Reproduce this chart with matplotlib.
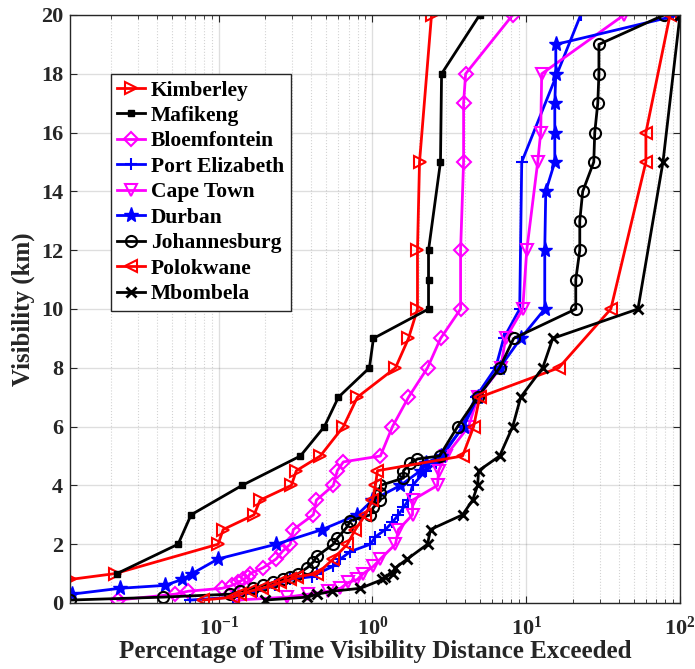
import numpy as np
import matplotlib
matplotlib.use("Agg")
import matplotlib.pyplot as plt
from matplotlib.ticker import LogLocator, FixedLocator, FixedFormatter, NullFormatter

plt.rcParams['font.family'] = 'Liberation Serif'
plt.rcParams['font.weight'] = 'bold'
plt.rcParams['mathtext.fontset'] = 'custom'
plt.rcParams['mathtext.rm'] = 'Liberation Serif:bold'
plt.rcParams['mathtext.it'] = 'Liberation Serif:bold'
plt.rcParams['mathtext.bf'] = 'Liberation Serif:bold'

# visibility (km) vs percentage of time exceeded
kim_vis = [0.8, 1, 2, 2.5, 3, 3.5, 4, 4.5, 5, 6, 7, 8, 9, 10, 12, 15, 20]
kim_pct = [0.0108, 0.0212, 0.0993, 0.107, 0.170, 0.186, 0.297, 0.320, 0.458, 0.647,
           0.798, 1.412, 1.716, 1.963, 1.963, 2.024, 2.422]

maf_vis = [1, 2, 3, 4, 5, 6, 7, 8, 9, 10, 11, 12, 15, 18, 20]
maf_pct = [0.0218, 0.0545, 0.0662, 0.142, 0.340, 0.487, 0.601, 0.956, 1.015, 2.316,
           2.316, 2.316, 2.77, 2.816, 4.98]

blo_vis = [0.1, 0.3, 0.4, 0.5, 0.6, 0.7, 0.8, 0.9, 1.0, 1.2, 1.5, 1.75, 2.0, 2.5, 3.0,
           3.5, 4.0, 4.5, 4.8, 5, 6, 7, 8, 9, 10, 12, 15, 17, 18, 20]
blo_pct = [0.0221, 0.0521, 0.0633, 0.1054, 0.1225, 0.134, 0.1445, 0.156, 0.160, 0.195,
           0.237, 0.259, 0.292, 0.306, 0.413, 0.432, 0.557, 0.591, 0.647, 1.127, 1.350,
           1.716, 2.282, 2.774, 3.743, 3.743, 3.915, 3.915, 4.036, 8.166]

pe_vis = [0.1, 0.2, 0.4, 0.6, 0.8, 0.9, 1.0, 1.25, 1.5, 1.75, 2.0, 2.25, 2.5, 2.75, 3.0,
          3.25, 3.5, 4.0, 4.5, 4.75, 5, 6, 7, 8, 9, 10, 15, 20]
pe_pct = [0.0652, 0.124, 0.178, 0.233, 0.292, 0.407, 0.438, 0.557, 0.619, 0.719, 0.970,
          1.046, 1.215, 1.350, 1.476, 1.592, 1.716, 1.823, 2.215, 2.572, 2.858, 3.857,
          4.689, 6.325, 7.130, 9.070, 9.350, 22.6]

cpt_vis = [0.1, 0.2, 0.3, 0.4, 0.5, 0.7, 0.8, 1.0, 1.25, 1.5, 2.0, 2.5, 3.0, 3.5, 4.0,
           4.5, 5, 6, 7, 8, 9, 10, 12, 15, 16, 18, 20]
cpt_pct = [0.132, 0.279, 0.383, 0.517, 0.619, 0.698, 0.798, 0.874, 1.015, 1.127, 1.412,
           1.476, 1.823, 1.823, 2.651, 2.692, 2.990, 4.220, 4.831, 6.819, 7.350, 9.494,
           10.08, 11.88, 12.42, 12.61, 43.2]

dur_vis = [0.3, 0.5, 0.6, 0.8, 1.0, 1.5, 2.0, 2.5, 3.0, 3.5, 4.0, 4.5, 4.75, 5, 6, 7, 8,
           9, 10, 12, 14, 15, 16, 17, 18, 19, 20]
dur_pct = [0.0111, 0.0228, 0.0448, 0.0578, 0.0672, 0.0993, 0.237, 0.472, 0.798, 1.0,
           1.521, 2.054, 2.215, 2.774, 3.915, 4.831, 6.720, 9.208, 13.20, 13.20, 13.40,
           15.34, 15.34, 15.34, 15.57, 15.57, 98.5]

jhb_vis = [0.1, 0.2, 0.3, 0.4, 0.5, 0.6, 0.7, 0.8, 0.9, 1.0, 1.2, 1.4, 1.6, 2.0, 2.2, 2.6,
           2.8, 3.0, 3.25, 3.5, 3.75, 4.0, 4.25, 4.5, 4.75, 4.9, 5, 6, 7, 8, 9, 10, 11, 12,
           13, 14, 15, 16, 17, 18, 19, 20]
jhb_pct = [0.0108, 0.0435, 0.119, 0.138, 0.168, 0.195, 0.226, 0.263, 0.292, 0.330, 0.377,
           0.413, 0.438, 0.557, 0.591, 0.687, 0.719, 0.970, 1.015, 1.127, 1.127, 1.127,
           1.592, 1.592, 1.768, 1.963, 2.733, 3.578, 4.831, 6.720, 8.292, 21.0, 21.0,
           22.3, 22.3, 23.3, 27.5, 27.9, 29.2, 29.7, 29.7, 78.7]

pol_vis = [0.1, 0.2, 0.3, 0.4, 0.5, 0.6, 0.7, 0.8, 0.9, 1.0, 1.5, 2.0, 2.5, 3.0, 3.5, 4.0,
           4.5, 5, 6, 7, 8, 10, 15, 16, 20]
pol_pct = [0.0793, 0.124, 0.138, 0.160, 0.192, 0.226, 0.252, 0.292, 0.325, 0.438, 0.557,
           0.687, 0.775, 0.900, 1.0, 1.046, 1.078, 3.857, 4.550, 4.979, 16.29, 35.5, 60.0,
           60.0, 86.1]

mbo_vis = [0.1, 0.2, 0.3, 0.4, 0.5, 0.8, 0.9, 1.0, 1.2, 1.5, 2.0, 2.5, 3.0, 3.5, 4.0, 4.5,
           5, 6, 7, 8, 9, 10, 15, 20]
mbo_pct = [0.201, 0.377, 0.438, 0.549, 0.835, 1.162, 1.215, 1.370, 1.412, 1.690, 2.282,
           2.387, 3.857, 4.482, 4.831, 4.905, 6.720, 8.166, 9.208, 12.80, 14.88, 53.3,
           77.5, 100]

x_ticks = [0.1, 1, 10, 100]
x_tick_labels = ['$10^{-1}$', '$10^{0}$', '$10^{1}$', '$10^{2}$']
y_ticks = [0, 2, 4, 6, 8, 10, 12, 14, 16, 18, 20]

MAG = '#ff00ff'

fig = plt.figure(figsize=(6.95, 6.69), dpi=100)
ax = fig.add_axes([70 / 695, 66 / 669, 610 / 695, 588 / 669])

lw = 2.0
ax.plot(kim_pct, kim_vis, color='r', lw=lw, marker='>', ms=9, mfc='none', mew=1.5, label='Kimberley')
ax.plot(maf_pct, maf_vis, color='k', lw=lw, marker='s', ms=5, mfc='k', label='Mafikeng')
ax.plot(blo_pct, blo_vis, color=MAG, lw=lw, marker='D', ms=7, mfc='none', mew=1.5, label='Bloemfontein')
ax.plot(pe_pct, pe_vis, color='b', lw=lw, marker='+', ms=9, mew=1.5, label='Port Elizabeth')
ax.plot(cpt_pct, cpt_vis, color=MAG, lw=lw, marker='v', ms=9, mfc='none', mew=1.5, label='Cape Town')
ax.plot(dur_pct, dur_vis, color='b', lw=lw, marker='*', ms=11, mfc='b', label='Durban')
ax.plot(jhb_pct, jhb_vis, color='k', lw=lw, marker='o', ms=8, mfc='none', mew=1.5, label='Johannesburg')
ax.plot(pol_pct, pol_vis, color='r', lw=lw, marker='<', ms=9, mfc='none', mew=1.5, label='Polokwane')
ax.plot(mbo_pct, mbo_vis, color='k', lw=lw, marker='x', ms=7, mew=2, label='Mbombela')

all_pct = kim_pct + maf_pct + blo_pct + pe_pct + cpt_pct + dur_pct + jhb_pct + pol_pct + mbo_pct
ax.set_xscale('log')
ax.set_xlim(min(all_pct), 100)
ax.set_ylim(0, 20)

ax.xaxis.set_major_locator(FixedLocator(x_ticks))
ax.xaxis.set_major_formatter(FixedFormatter(x_tick_labels))
ax.xaxis.set_minor_locator(LogLocator(base=10, subs=np.arange(2, 10), numticks=20))
ax.xaxis.set_minor_formatter(NullFormatter())
ax.set_yticks(y_ticks)

ax.grid(True, which='major', color='0.15', alpha=0.15, lw=1)
ax.grid(True, which='minor', axis='x', color='0.15', alpha=0.2, lw=0.8, ls=':')
ax.set_axisbelow(True)

ax.tick_params(which='both', direction='in', top=True, right=True, labelsize=16, colors='0.15')
ax.tick_params(axis='x', pad=10)
ax.tick_params(axis='y', pad=5)
ax.tick_params(which='major', length=5)
ax.tick_params(which='minor', length=3)
for sp in ax.spines.values():
    sp.set_color('0.15')
    sp.set_linewidth(1)

ax.set_xlabel('Percentage of Time Visibility Distance Exceeded', fontsize=18,
              fontweight='bold', color='0.15', labelpad=0)
ax.set_ylabel('Visibility (km)', fontsize=18, fontweight='bold', color='0.15', labelpad=4)

leg = ax.legend(loc='upper left', bbox_to_anchor=(111 / 695, 1 - 74 / 669),
                bbox_transform=fig.transFigure, fontsize=15.5, frameon=True, fancybox=False,
                edgecolor='0.15', framealpha=1, handlelength=1.3, handletextpad=0.25,
                labelspacing=0.25, borderpad=0.3, borderaxespad=0)
leg.get_frame().set_linewidth(1)

fig.savefig('out.png', dpi=100)
